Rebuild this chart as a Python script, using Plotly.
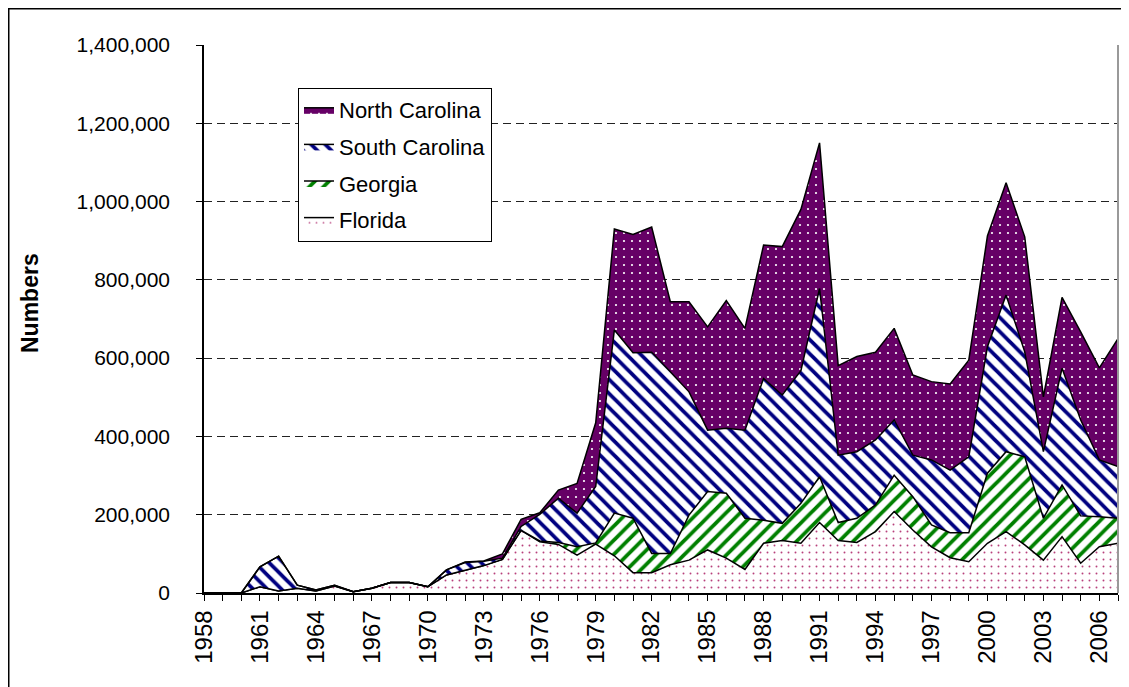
import plotly.graph_objects as go

years = list(range(1958, 2008))

florida = [0, 0, 0, 16000, 5000, 12000, 5000, 18000, 3000, 12000,
           27000, 27000, 16000, 46000, 58000, 70000, 86000, 160000, 131000, 124000,
           97000, 125000, 95000, 52000, 52000, 72000, 84000, 110000, 89000, 60000,
           127000, 134000, 127000, 180000, 134000, 129000, 157000, 208000, 161000, 118000,
           90000, 80000, 127000, 157000, 123000, 84000, 144000, 76000, 118000, 127000]

georgia = [0, 0, 0, 0, 0, 0, 0, 0, 0, 0,
           0, 0, 0, 0, 0, 0, 0, 0, 2000, 5000,
           21000, 3000, 109000, 139000, 49000, 29000, 115000, 149000, 166000, 131000,
           59000, 44000, 102000, 117000, 46000, 62000, 68000, 93000, 85000, 56000,
           64000, 74000, 179000, 204000, 225000, 107000, 132000, 121000, 77000, 64000]

south_carolina = [0, 0, 0, 51000, 89000, 8000, 3000, 2000, 500, 0,
                  0, 0, 0, 13000, 20000, 11000, 3000, 10000, 68000, 113000,
                  86000, 144000, 468000, 423000, 514000, 464000, 315000, 157000, 166000, 225000,
                  362000, 328000, 339000, 481000, 172000, 170000, 166000, 141000, 106000, 166000,
                  160000, 194000, 323000, 400000, 268000, 170000, 298000, 245000, 145000, 132000]

north_carolina = [0, 0, 0, 0, 0, 0, 0, 0, 0, 0,
                  0, 0, 0, 0, 1000, 1000, 11000, 18000, 4000, 21000,
                  76000, 163000, 258000, 302000, 320000, 179000, 230000, 264000, 326000, 260000,
                  341000, 379000, 412000, 372000, 229000, 243000, 224000, 234000, 205000, 200000,
                  220000, 247000, 283000, 287000, 294000, 140000, 181000, 225000, 235000, 327000]

series = [
    ("Florida", florida, 4, dict(shape=".", bgcolor="white", fgcolor="#B8407C", size=7, solidity=0.06, fillmode="replace")),
    ("Georgia", georgia, 3, dict(shape="/", bgcolor="white", fgcolor="#008000", size=10, solidity=0.38, fillmode="replace")),
    ("South Carolina", south_carolina, 2, dict(shape="\\", bgcolor="white", fgcolor="#000080", size=10, solidity=0.38, fillmode="replace")),
    ("North Carolina", north_carolina, 1, dict(shape=".", bgcolor="#660066", fgcolor="#FFFFFF", size=8, solidity=0.06, fillmode="replace")),
]

xtick_vals = list(range(1958, 2007, 3))
xtick_text = [str(v) for v in xtick_vals]
ytick_vals = list(range(0, 1400001, 200000))

fig = go.Figure()
for name, vals, rank, pat in series:
    fig.add_trace(go.Scatter(
        x=years, y=vals, name=name, mode="lines",
        stackgroup="one", legendgroup=name, legendrank=rank,
        line=dict(color="black", width=1.5),
        fillpattern=pat,
        fillcolor=pat["bgcolor"],
    ))

fnt = "Liberation Sans, Arial, sans-serif"
# page body has an 8px margin; figure placed at (8, 8)
W, H = 1121, 679
L, R, T, B = 196, 11, 37, 94
pw, ph = W - L - R, H - T - B

def px(xp):
    return (xp - L) / pw

def py(yp):
    return (H - B - yp) / ph

fig.update_layout(
    width=W, height=H,
    margin=dict(l=L, r=R, t=T, b=B, autoexpand=False),
    paper_bgcolor="white", plot_bgcolor="white",
    font=dict(family=fnt, size=21, color="black"),
    showlegend=True,
    legend=dict(
        x=px(290), y=py(80), xanchor="left", yanchor="top",
        bgcolor="white", bordercolor="black", borderwidth=1,
        traceorder="grouped", tracegroupgap=5,
        itemwidth=30,
        font=dict(family=fnt, size=22, color="black"),
    ),
    xaxis=dict(
        range=[1958, 2007], tickmode="array", tickvals=xtick_vals, ticktext=xtick_text,
        tickangle=-90, ticks="outside", ticklen=6, tickcolor="black", tickwidth=1,
        showline=True, linecolor="black", linewidth=1.5,
        showgrid=False, zeroline=False,
        minor=dict(dtick=1, tick0=1958, ticks="outside", ticklen=6, tickcolor="black", showgrid=False),
        tickfont=dict(family=fnt, size=24),
    ),
    yaxis=dict(
        range=[0, 1400000], tickmode="array", tickvals=ytick_vals,
        tickformat=",d", ticks="outside", ticklen=6, tickcolor="black",
        ticklabelstandoff=22,
        showline=True, linecolor="black", linewidth=1.5,
        showgrid=True, gridcolor="#222222", griddash="8px,5px", gridwidth=1,
        zeroline=False,
        tickfont=dict(family=fnt, size=21),
    ),
    annotations=[
        dict(text="<b>Numbers</b>", xref="paper", yref="paper", x=px(22), y=py(295),
             xanchor="center", yanchor="middle", textangle=-90, showarrow=False,
             font=dict(family=fnt, size=23, color="black")),
    ],
    shapes=[
        dict(type="line", xref="paper", yref="paper", x0=px(0.75), x1=px(0.75), y0=py(0), y1=py(H + 20),
             line=dict(color="black", width=1.5)),
        dict(type="line", xref="paper", yref="paper", x0=px(0), x1=px(W + 20), y0=py(0.75), y1=py(0.75),
             line=dict(color="black", width=1.5)),
        dict(type="line", xref="paper", yref="paper", x0=1, x1=1, y0=0, y1=1,
             line=dict(color="#999999", width=2)),
    ],
)

fig.write_html("out.html")
